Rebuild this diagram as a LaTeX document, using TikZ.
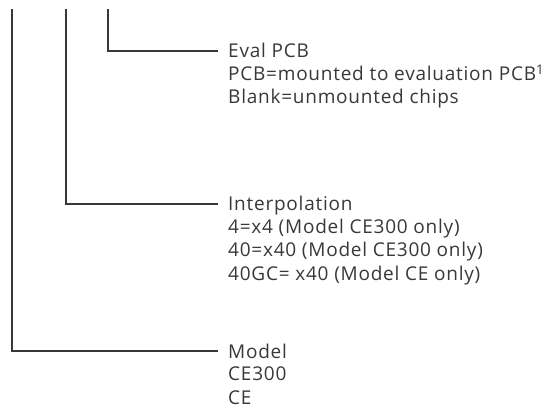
\documentclass[tikz,border=0pt]{standalone}
\usepackage{fontspec}
\setmainfont{Open Sans}[LetterSpace=4]
\definecolor{ink}{HTML}{383838}
\begin{document}
\begin{tikzpicture}[x=1pt, y=-1pt,
    lbl/.style={anchor=base west, inner sep=0pt, text=ink,
          font=\fontsize{19}{23}\selectfont},
    lead/.style={draw=ink, line width=1.1pt}]
            \useasboundingbox (0,0) rectangle (560,414);
            % tops of the three leads
            \coordinate (modeltop) at (12,9);
            \coordinate (interptop) at (66,9);
            \coordinate (evaltop) at (108,9);
            % field descriptions
            \node[lbl] (eval) at (228,58) {Eval PCB};
            \node[lbl] (eval1) at (228,81) {PCB=mounted to evaluation PCB\textsuperscript{1}};
            \node[lbl] (eval2) at (228,104) {Blank=unmounted chips};
            \node[lbl] (interp) at (228,211) {Interpolation};
            \node[lbl] (interp1) at (228,234) {4=x4 (Model CE300 only)};
            \node[lbl] (interp2) at (228,257) {40=x40 (Model CE300 only)};
            \node[lbl] (interp3) at (228,280) {40GC= x40 (Model CE only)};
            \node[lbl] (model) at (228,358) {Model};
            \node[lbl] (model1) at (228,381) {CE300};
            \node[lbl] (model2) at (228,404) {CE};
            \draw[lead] (evaltop) |- ([xshift=-10pt,yshift=7pt]eval.base west);
            \draw[lead] (interptop) |- ([xshift=-10pt,yshift=7pt]interp.base west);
            \draw[lead] (modeltop) |- ([xshift=-10pt,yshift=7pt]model.base west);
        \end{tikzpicture}
\end{document}
